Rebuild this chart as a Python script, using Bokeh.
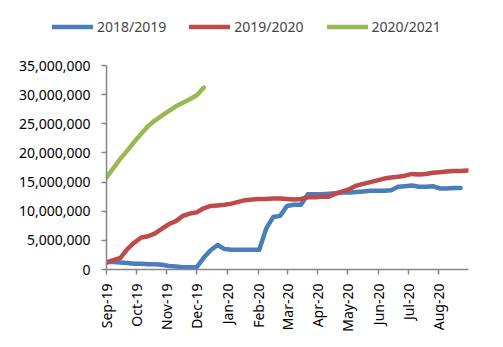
import datetime as dt
from bokeh.plotting import figure
from bokeh.layouts import column
from bokeh.models import (FixedTicker, DatetimeTickFormatter, NumeralTickFormatter,
                          Range1d, Legend, LegendItem)
from bokeh.embed import file_html
from bokeh.resources import INLINE
import math

# ---- data (weekly, millions) ----
week_start = dt.datetime(2019, 9, 1)
s2018_2019 = [1.3, 1.3, 1.2, 1.1, 1.0, 1.0, 0.9, 0.9, 0.8, 0.6, 0.5, 0.4, 0.4, 0.4,
              2.0, 3.3, 4.2, 3.5, 3.4, 3.4, 3.4, 3.4, 3.4, 7.0, 9.0, 9.2, 10.9, 11.1,
              11.1, 12.9, 12.9, 12.9, 13.0, 13.1, 13.2, 13.2, 13.3, 13.4, 13.5, 13.5,
              13.5, 13.6, 14.2, 14.3, 14.4, 14.2, 14.2, 14.3, 13.9, 13.9, 14.0, 14.0]
s2019_2020 = [1.2, 1.6, 2.0, 3.5, 4.6, 5.5, 5.7, 6.2, 7.0, 7.8, 8.3, 9.2, 9.6, 9.8,
              10.5, 10.9, 11.0, 11.1, 11.3, 11.6, 11.9, 12.0, 12.1, 12.1, 12.2, 12.2,
              12.1, 12.0, 12.1, 12.4, 12.4, 12.5, 12.5, 13.0, 13.4, 13.8, 14.4, 14.7,
              15.0, 15.3, 15.6, 15.8, 15.9, 16.1, 16.4, 16.3, 16.4, 16.6, 16.7, 16.8,
              16.9, 16.9, 17.0]
s2020_2021 = [15.8, 17.4, 19.0, 20.4, 21.9, 23.3, 24.6, 25.6, 26.4, 27.2, 28.0, 28.6,
              29.2, 29.9, 31.2]
series_names = ["2018/2019", "2019/2020", "2020/2021"]
month_ticks = [dt.datetime(2019, m, 1) for m in range(9, 13)] + \
              [dt.datetime(2020, m, 1) for m in range(1, 9)]

colors = ["#4A7EBB", "#BE4B48", "#98B954"]

def dates(n):
    return [week_start + dt.timedelta(days=7 * k) for k in range(n)]

def ms(d):
    return (d - dt.datetime(1970, 1, 1)).total_seconds() * 1000.0

FONT = "Noto Sans"
LW = 4.5

# ---- legend strip (its lines sit outside the visible range; only the legend shows) ----
p0 = figure(width=503, height=50, output_backend="svg", toolbar_location=None,
            x_range=Range1d(0, 1), y_range=Range1d(0, 1),
            x_axis_location=None, y_axis_location=None,
            min_border_left=0, min_border_right=0, min_border_top=0, min_border_bottom=0)
p0.frame_align = False
p0.outline_line_color = None
p0.xgrid.visible = False
p0.ygrid.visible = False
leg_r = [p0.line([-5, -4], [-5, -4], line_color=c, line_width=LW, line_cap="round")
         for c in colors]
legend = Legend(items=[LegendItem(label=n, renderers=[r]) for n, r in zip(series_names, leg_r)],
                orientation="horizontal", location=(52, 14),
                label_text_font=FONT, label_text_font_size="14px",
                glyph_width=41, glyph_height=17, spacing=23, label_standoff=4,
                padding=0, margin=0, border_line_alpha=0, background_fill_alpha=0)
p0.add_layout(legend, "center")

# ---- main chart ----
p = figure(width=503, height=297, output_backend="svg", toolbar_location=None,
           x_axis_type="datetime",
           x_range=Range1d(ms(dt.datetime(2019, 9, 1)), ms(dt.datetime(2020, 8, 31))),
           y_range=Range1d(0, 35_000_000),
           min_border_left=106, min_border_right=35, min_border_top=15,
           min_border_bottom=78)
p.frame_align = False
p.outline_line_color = None
p.xgrid.visible = False
p.ygrid.visible = False

for vals, col in zip([s2018_2019, s2019_2020, s2020_2021], colors):
    p.line(dates(len(vals)), [v * 1_000_000 for v in vals], line_color=col,
           line_width=LW, line_join="round", line_cap="round")

p.yaxis.ticker = FixedTicker(ticks=[i * 5_000_000 for i in range(8)])
p.yaxis.formatter = NumeralTickFormatter(format="0,0")
p.xaxis.ticker = FixedTicker(ticks=[ms(d) for d in month_ticks])
fmt = "%b-%y"
p.xaxis.formatter = DatetimeTickFormatter(milliseconds=fmt, seconds=fmt, minsec=fmt,
                                          minutes=fmt, hourmin=fmt, hours=fmt, days=fmt,
                                          months=fmt, years=fmt)
p.xaxis.major_label_orientation = math.pi / 2
for ax in (p.xaxis, p.yaxis):
    ax.axis_line_color = "#868686"
    ax.axis_line_width = 1.5
    ax.major_tick_line_color = "#868686"
    ax.major_tick_line_width = 1.5
    ax.major_tick_out = 5
    ax.major_tick_in = 0
    ax.minor_tick_line_color = None
    ax.major_label_text_font = FONT
    ax.major_label_text_font_size = "14px"
    ax.major_label_text_color = "#000000"
p.yaxis.major_label_standoff = 11
p.xaxis.major_label_standoff = 9

open("out.html", "w").write(file_html(column(p0, p, spacing=0), INLINE))
